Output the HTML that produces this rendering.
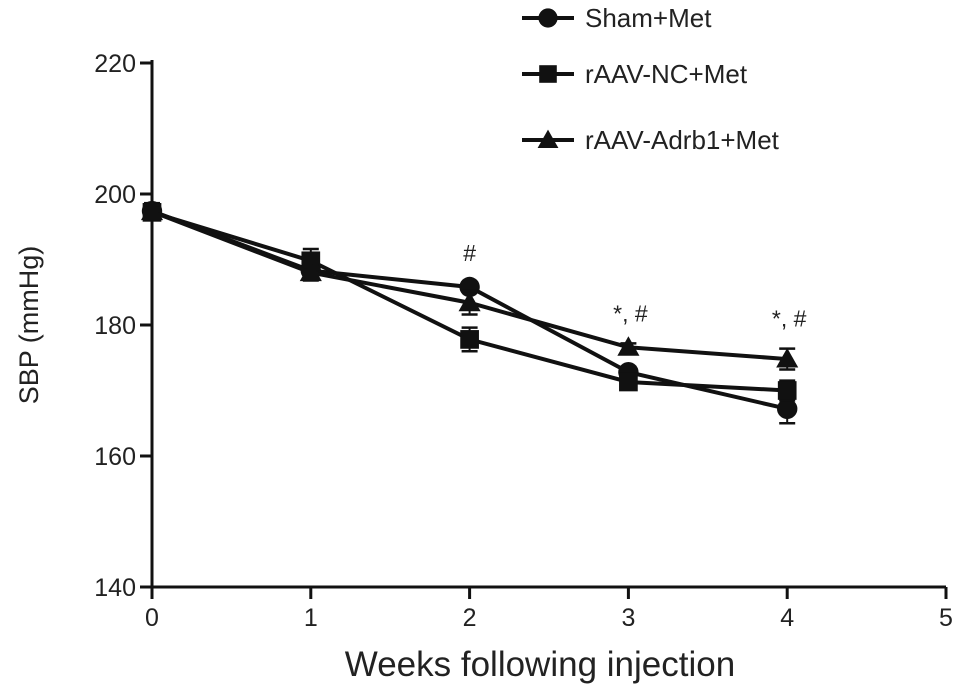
<!DOCTYPE html>
<html><head><meta charset="utf-8"><style>
body{margin:0;background:#fff}
svg text{font-family:"Liberation Sans",Arial,sans-serif;fill:#222}
</style></head><body>
<svg id="chart" width="969" height="690" xmlns="http://www.w3.org/2000/svg"></svg>
<script>
const weeks=[0,1,2,3,4];
const xTicks=[0,1,2,3,4,5];
const yTicks=[140,160,180,200,220];
const seriesNames=["Sham+Met","rAAV-NC+Met","rAAV-Adrb1+Met"];
const shamVals=[197.4,188.3,185.8,172.8,167.2];
const ncVals=[197.2,189.8,177.8,171.3,170.0];
const adrbVals=[197.3,188.0,183.4,176.6,174.8];
const shamErr=[1.2,1.0,0.6,0.8,2.2];
const ncErr=[1.0,1.8,1.8,0.8,1.5];
const adrbErr=[1.0,1.2,1.8,0.6,1.6];
const annotations=["","","#","*, #","*, #"];

const svg=document.getElementById('chart');
const NS="http://www.w3.org/2000/svg";
const X=v=>152+v*158.8;
const Y=v=>587-(v-140)*6.55;
function el(t,a,p){const e=document.createElementNS(NS,t);for(const k in a)e.setAttribute(k,a[k]);(p||svg).appendChild(e);return e;}

let ax=el('line',{x1:152,y1:587,x2:946,y2:587,stroke:'#111','stroke-width':3});


let ay=el('line',{x1:152,y1:60,x2:152,y2:587,stroke:'#111','stroke-width':3});


xTicks.forEach(t=>{
  el('line',{x1:X(t),y1:587,x2:X(t),y2:599,stroke:'#111','stroke-width':3});
  const tx=el('text',{x:X(t),y:626,'text-anchor':'middle','font-size':25});tx.textContent=t;
  
  
});
yTicks.forEach(t=>{
  el('line',{x1:140,y1:Y(t),x2:152,y2:Y(t),stroke:'#111','stroke-width':3});
  const tx=el('text',{x:136,y:Y(t)+9,'text-anchor':'end','font-size':25});tx.textContent=t;
  
  
});
let xl=el('text',{x:540,y:676,'text-anchor':'middle','font-size':35});xl.textContent='Weeks following injection';


let yl=el('text',{x:0,y:0,'text-anchor':'middle','font-size':27,transform:'translate(38,325) rotate(-90)'});yl.textContent='SBP (mmHg)';



function marker(kind,cx,cy,g,s){
  if(kind==0) return el('circle',{cx:cx,cy:cy,r:s*0.6,fill:'#111'},g);
  if(kind==1) return el('rect',{x:cx-s*0.55,y:cy-s*0.55,width:s*1.1,height:s*1.1,fill:'#111'},g);
  return el('polygon',{points:`${cx},${cy-s*0.65} ${cx-s*0.65},${cy+s*0.5} ${cx+s*0.65},${cy+s*0.5}`,fill:'#111'},g);
}
const allVals=[shamVals,ncVals,adrbVals], allErr=[shamErr,ncErr,adrbErr], names=['sham-met','rAAV-nc-met','rAAV-adrb1-met'];
allVals.forEach((vals,i)=>{
  const g=el('g',{});
  
  
  const pl=el('polyline',{points:weeks.map((w,j)=>X(w)+','+Y(vals[j])).join(' '),fill:'none',stroke:'#111','stroke-width':4},g);
  
  
  weeks.forEach((w,j)=>{
    const e=allErr[i][j],x=X(w);
    el('line',{x1:x,y1:Y(vals[j]+e),x2:x,y2:Y(vals[j]-e),stroke:'#111','stroke-width':2},g);
    el('line',{x1:x-8,y1:Y(vals[j]+e),x2:x+8,y2:Y(vals[j]+e),stroke:'#111','stroke-width':2.5},g);
    el('line',{x1:x-8,y1:Y(vals[j]-e),x2:x+8,y2:Y(vals[j]-e),stroke:'#111','stroke-width':2.5},g);
    const m=marker(i,x,Y(vals[j]),g,17);
    
    
  });
});
weeks.forEach((w,j)=>{
  if(!annotations[j])return;
  const top=Math.max(shamVals[j]+shamErr[j],ncVals[j]+ncErr[j],adrbVals[j]+adrbErr[j]);
  const t=el('text',{x:X(w)+(annotations[j].length>1?2:0),y:Y(top)-22,'text-anchor':'middle','font-size':23});
  t.textContent=annotations[j];
  
  
});
const lg=el('g',{});


[18,74,140].forEach((ly,i)=>{
  const g=el('g',{},lg);
  
  
  el('line',{x1:522,y1:ly,x2:574,y2:ly,stroke:'#111','stroke-width':4},g);
  marker(i,548,ly,g,16);
  const t=el('text',{x:585,y:ly+9,'font-size':26},g);t.textContent=seriesNames[i];
});
</script>
</body></html>
